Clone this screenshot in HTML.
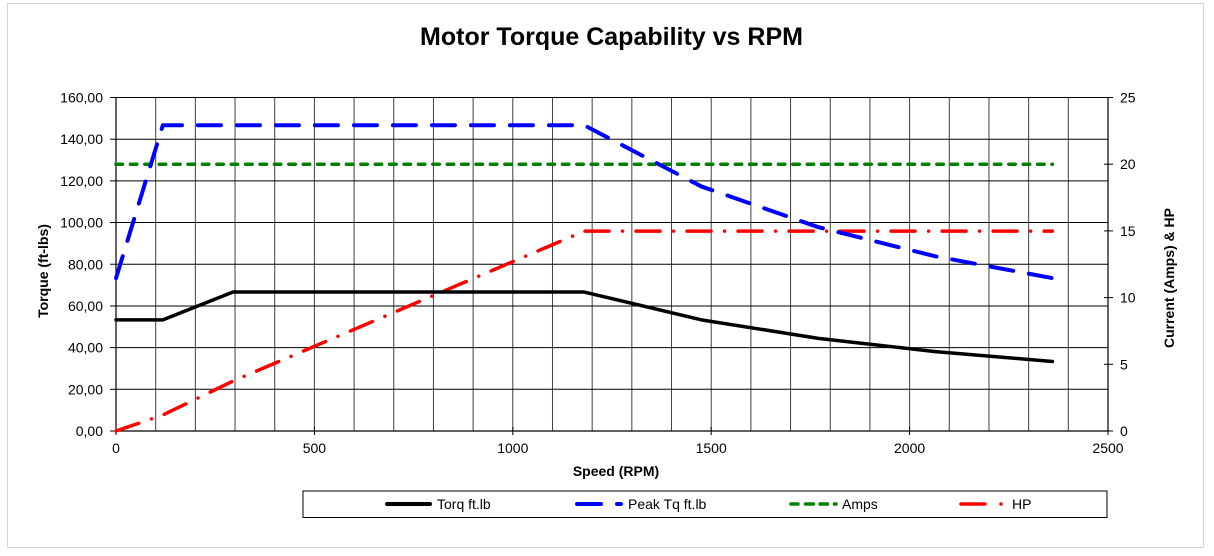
<!DOCTYPE html>
<html>
<head>
<meta charset="utf-8">
<style>
  html, body { margin: 0; padding: 0; background: #fff; }
  svg { display: block; }
  text { font-family: "Liberation Sans", Arial, sans-serif; fill: #000; }
</style>
</head>
<body>
<svg width="1214" height="556" viewBox="0 0 1214 556" xmlns="http://www.w3.org/2000/svg">
  <rect x="0" y="0" width="1214" height="556" fill="#fff"/>
  <!-- outer chart border -->
  <rect x="7.5" y="3.5" width="1196" height="544" fill="none" stroke="#d4d4d4" stroke-width="1"/>

  <!-- title -->
  <text x="611.5" y="45" font-size="25" font-weight="bold" text-anchor="middle">Motor Torque Capability vs RPM</text>

  <!-- vertical grid lines every 100 RPM -->
  <g stroke="#000" stroke-width="1" opacity="0.75">
    <line x1="155.68" y1="97.5" x2="155.68" y2="431"/>
    <line x1="195.36" y1="97.5" x2="195.36" y2="431"/>
    <line x1="235.04" y1="97.5" x2="235.04" y2="431"/>
    <line x1="274.72" y1="97.5" x2="274.72" y2="431"/>
    <line x1="314.4" y1="97.5" x2="314.4" y2="431"/>
    <line x1="354.08" y1="97.5" x2="354.08" y2="431"/>
    <line x1="393.76" y1="97.5" x2="393.76" y2="431"/>
    <line x1="433.44" y1="97.5" x2="433.44" y2="431"/>
    <line x1="473.12" y1="97.5" x2="473.12" y2="431"/>
    <line x1="512.8" y1="97.5" x2="512.8" y2="431"/>
    <line x1="552.48" y1="97.5" x2="552.48" y2="431"/>
    <line x1="592.16" y1="97.5" x2="592.16" y2="431"/>
    <line x1="631.84" y1="97.5" x2="631.84" y2="431"/>
    <line x1="671.52" y1="97.5" x2="671.52" y2="431"/>
    <line x1="711.2" y1="97.5" x2="711.2" y2="431"/>
    <line x1="750.88" y1="97.5" x2="750.88" y2="431"/>
    <line x1="790.56" y1="97.5" x2="790.56" y2="431"/>
    <line x1="830.24" y1="97.5" x2="830.24" y2="431"/>
    <line x1="869.92" y1="97.5" x2="869.92" y2="431"/>
    <line x1="909.6" y1="97.5" x2="909.6" y2="431"/>
    <line x1="949.28" y1="97.5" x2="949.28" y2="431"/>
    <line x1="988.96" y1="97.5" x2="988.96" y2="431"/>
    <line x1="1028.64" y1="97.5" x2="1028.64" y2="431"/>
    <line x1="1068.32" y1="97.5" x2="1068.32" y2="431"/>
  </g>
  <!-- horizontal grid lines -->
  <g stroke="#000" stroke-width="1">
    <line x1="116" y1="97.5" x2="1108" y2="97.5"/>
    <line x1="116" y1="139.19" x2="1108" y2="139.19"/>
    <line x1="116" y1="180.88" x2="1108" y2="180.88"/>
    <line x1="116" y1="222.56" x2="1108" y2="222.56"/>
    <line x1="116" y1="264.25" x2="1108" y2="264.25"/>
    <line x1="116" y1="305.94" x2="1108" y2="305.94"/>
    <line x1="116" y1="347.63" x2="1108" y2="347.63"/>
    <line x1="116" y1="389.31" x2="1108" y2="389.31"/>
  </g>

  <!-- axes -->
  <g stroke="#000" stroke-width="1.2">
    <line x1="116" y1="97.5" x2="116" y2="431"/>
    <line x1="1108" y1="97.5" x2="1108" y2="431"/>
    <line x1="116" y1="431" x2="1108" y2="431"/>
  </g>
  <!-- ticks -->
  <g stroke="#000" stroke-width="1">
    <!-- left -->
    <line x1="110" y1="97.5" x2="116" y2="97.5"/>
    <line x1="110" y1="139.19" x2="116" y2="139.19"/>
    <line x1="110" y1="180.88" x2="116" y2="180.88"/>
    <line x1="110" y1="222.56" x2="116" y2="222.56"/>
    <line x1="110" y1="264.25" x2="116" y2="264.25"/>
    <line x1="110" y1="305.94" x2="116" y2="305.94"/>
    <line x1="110" y1="347.63" x2="116" y2="347.63"/>
    <line x1="110" y1="389.31" x2="116" y2="389.31"/>
    <line x1="110" y1="431" x2="116" y2="431"/>
    <!-- right -->
    <line x1="1104" y1="97.5" x2="1113" y2="97.5"/>
    <line x1="1104" y1="164.2" x2="1113" y2="164.2"/>
    <line x1="1104" y1="230.9" x2="1113" y2="230.9"/>
    <line x1="1104" y1="297.6" x2="1113" y2="297.6"/>
    <line x1="1104" y1="364.3" x2="1113" y2="364.3"/>
    <line x1="1104" y1="431" x2="1113" y2="431"/>
    <!-- bottom -->
    <line x1="116" y1="427" x2="116" y2="435"/>
    <line x1="314.4" y1="427" x2="314.4" y2="435"/>
    <line x1="512.8" y1="427" x2="512.8" y2="435"/>
    <line x1="711.2" y1="427" x2="711.2" y2="435"/>
    <line x1="909.6" y1="427" x2="909.6" y2="435"/>
    <line x1="1108" y1="427" x2="1108" y2="435"/>
  </g>

  <!-- left tick labels -->
  <g font-size="14" text-anchor="end">
    <text x="103" y="102.5">160,00</text>
    <text x="103" y="144.2">140,00</text>
    <text x="103" y="185.9">120,00</text>
    <text x="103" y="227.6">100,00</text>
    <text x="103" y="269.3">80,00</text>
    <text x="103" y="310.9">60,00</text>
    <text x="103" y="352.6">40,00</text>
    <text x="103" y="394.3">20,00</text>
    <text x="103" y="436">0,00</text>
  </g>
  <!-- right tick labels -->
  <g font-size="14" text-anchor="start">
    <text x="1120" y="102.5">25</text>
    <text x="1120" y="169.2">20</text>
    <text x="1120" y="235.9">15</text>
    <text x="1120" y="302.6">10</text>
    <text x="1120" y="369.3">5</text>
    <text x="1120" y="436">0</text>
  </g>
  <!-- bottom tick labels -->
  <g font-size="14" text-anchor="middle">
    <text x="116" y="453">0</text>
    <text x="314.4" y="453">500</text>
    <text x="512.8" y="453">1000</text>
    <text x="711.2" y="453">1500</text>
    <text x="909.6" y="453">2000</text>
    <text x="1108" y="453">2500</text>
  </g>

  <!-- axis titles -->
  <text x="616" y="476" font-size="14" font-weight="bold" text-anchor="middle">Speed (RPM)</text>
  <text transform="translate(48,271) rotate(-90)" font-size="14" font-weight="bold" text-anchor="middle">Torque (ft-lbs)</text>
  <text transform="translate(1174,278) rotate(-90)" font-size="14" font-weight="bold" text-anchor="middle">Current (Amps) &amp; HP</text>

  <!-- series -->
  <!-- Amps -->
  <polyline points="116,164.2 1052.45,164.2" fill="none" stroke="#008000" stroke-width="3.5" stroke-linecap="round" stroke-dasharray="6.5 7.9"/>
  <!-- HP -->
  <polyline points="116,431 162.82,415.02 233.06,381.04 584.22,231.17 1052.45,231.17" fill="none" stroke="#ff0000" stroke-width="3.5" stroke-linecap="round" stroke-linejoin="round" stroke-dasharray="24 13.5 0.01 13.5"/>
  <!-- Peak Tq -->
  <polyline points="116,278.15 162.82,125.29 584.22,125.29 701.28,186.43 818.34,227.19 935.39,256.31 1052.45,278.15" fill="none" stroke="#0000ff" stroke-width="4" stroke-linecap="round" stroke-linejoin="round" stroke-dasharray="23 16"/>
  <!-- Torq -->
  <polyline points="116,319.84 162.82,319.84 233.06,292.04 584.22,292.04 701.28,319.84 818.34,338.36 935.39,351.59 1052.45,361.52" fill="none" stroke="#000" stroke-width="3.5" stroke-linecap="round" stroke-linejoin="round"/>

  <!-- legend -->
  <rect x="303" y="491" width="804" height="26.5" fill="#fff" stroke="#000" stroke-width="1"/>
  <line x1="387" y1="504" x2="430" y2="504" stroke="#000" stroke-width="4" stroke-linecap="round"/>
  <text x="437" y="509" font-size="14">Torq ft.lb</text>
  <path d="M577,504 L601,504 M617,504 L621,504" stroke="#0000ff" stroke-width="4" stroke-linecap="round" fill="none"/>
  <text x="628" y="509" font-size="14">Peak Tq ft.lb</text>
  <path d="M791,504 L798,504 M805.5,504 L813.5,504 M820,504 L827.5,504 M834.5,504 L836,504" stroke="#008000" stroke-width="3.5" stroke-linecap="round" fill="none"/>
  <text x="842" y="509" font-size="14">Amps</text>
  <path d="M961,504 L985,504 M1001,504 L1001.01,504" stroke="#ff0000" stroke-width="3.5" stroke-linecap="round" fill="none"/>
  <text x="1012" y="509" font-size="14">HP</text>
</svg>
</body>
</html>
